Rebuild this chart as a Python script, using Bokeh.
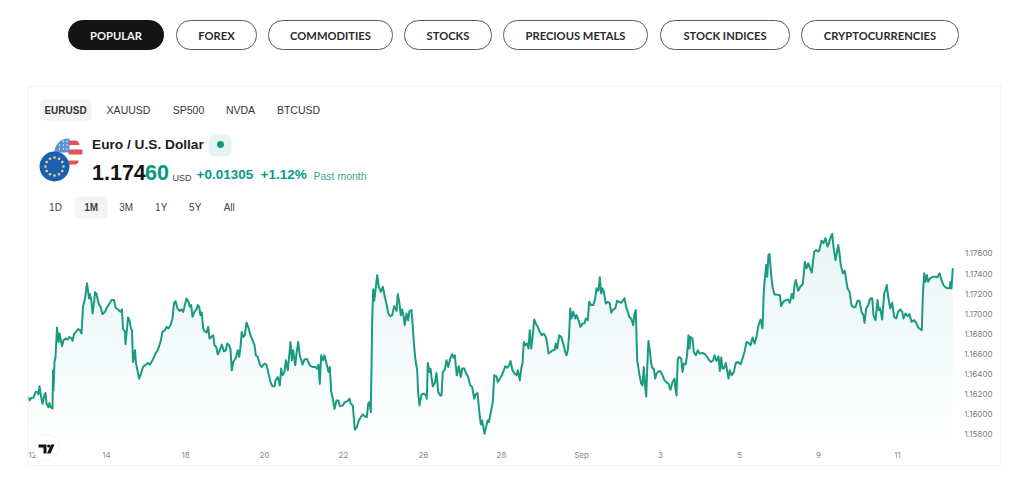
import math
import numpy as np
from bokeh.embed import file_html
from bokeh.models import (BoxAnnotation, FixedTicker, Label, NumeralTickFormatter, PolyAnnotation, Range1d)
from bokeh.plotting import figure
from bokeh.resources import INLINE

# ---- data ----
categories = ["POPULAR", "FOREX", "COMMODITIES", "STOCKS", "PRECIOUS METALS", "STOCK INDICES", "CRYPTOCURRENCIES"]
symbols = ["EURUSD", "XAUUSD", "SP500", "NVDA", "BTCUSD"]
periods = ["1D", "1M", "3M", "1Y", "5Y", "All"]
x_tick_bars = [5, 79, 158, 237, 316, 396, 474, 554, 633, 712, 791, 870]
x_tick_labels = ["12", "14", "18", "20", "22", "26", "28", "Sep", "3", "5", "9", "11"]
y_ticks = [1.158, 1.160, 1.162, 1.164, 1.166, 1.168, 1.170, 1.172, 1.174, 1.176]

bars = [0, 1, 2, 4, 6, 8, 10, 11, 12, 14, 15, 17, 18, 19, 21, 22, 23, 25, 25.5, 26, 27, 28, 29.5, 31, 32, 33, 34.5, 36,
        38, 40, 42, 44, 45, 46.5, 48.5, 50.5, 52.5, 54, 55.5, 57.5, 59.5, 61.5, 62.5, 64, 65, 66.5, 67.5, 69, 71, 73,
        75, 77.5, 79.5, 82, 84, 86.5, 88, 90.5, 93, 94.5, 95.5, 97.5, 98, 99.5, 100.5, 102, 103.5, 104.5, 105.5, 107.5,
        108.5, 110, 111.5, 113.5, 115.5, 118, 120.5, 122.5, 125, 128, 130.5, 133, 135, 137.5, 139, 141, 143, 145, 146.5,
        148, 150, 152, 154,
        155.7, 157.3, 159, 161, 162.3, 163.7, 165, 167, 169, 170.3, 171.7, 173, 174.3, 175.7, 177, 179, 180.7, 182,
        183.7, 185.7, 187, 188.7, 190.3, 192.3, 194.3, 196.3, 198.3, 199.7, 201.7, 203, 204.3, 205.7, 208.3, 210.3,
        211.7, 213, 214.3, 215.7, 217.3, 219, 221, 223, 225, 227, 228.3, 230.3, 232.3, 234.3, 237, 239, 241, 243, 245,
        247, 248, 250.3, 252.3, 253.7, 255, 257, 258.3, 260.3, 263, 264.3, 265.7, 267.7, 269, 270.7, 272.3, 275, 277,
        279.7, 282.3, 285, 287.7, 289.7, 291, 292.3, 293.7, 295.7, 297, 299, 301, 302.3, 303.7, 305, 307, 309, 311, 312.3,
        315.3, 317.3, 320, 322, 323.3, 325.3, 327.3, 329.3, 331.3, 333.3, 335.3, 337.3, 339.3, 340.7, 342, 343.3, 344.7,
        345.7, 346.7, 348, 349.7, 351.3, 353.3, 355.3, 357.3, 359.3, 360.7, 362.7, 364.7, 366.7, 369, 370.3, 372, 373.3,
        374.7, 376, 377.3, 379, 380.7, 382, 384, 385.3, 386.7, 388, 389.7, 390.7, 392, 394, 396, 398.7, 399.3, 400.3, 402,
        403, 404, 405.3, 407.3, 409, 410.7, 412.7, 414, 415.3, 417.3, 419, 420.7, 422.7, 424.7, 426, 427.3, 429.3, 431.3,
        433.3, 434.7, 436.7, 438.7, 440.7, 442.7, 444.7, 446.7, 448, 450, 452, 453.3, 454.7, 457, 458.7, 460, 461.3,
        462.7, 464, 465.3, 466.7,
        467.7, 469, 470.3, 472.3, 474.3, 476.3, 477.7, 479.7, 481.7, 483, 485, 487, 489, 490.3, 492.3, 493.7, 495, 496.3,
        498, 499.7, 501, 502.3, 503.7, 505.3, 506.7, 508.3, 510.3, 512.3, 514.3, 516.3, 518.3, 519.7, 521, 523, 525, 527,
        528.3, 529.7, 531.7, 533.7, 535.7, 537.7, 539, 540.3, 541.7, 542.7, 544, 545.7, 547.7, 549, 551, 553, 555, 557,
        558.3, 560.3, 561.7, 563.7, 565.7, 567.7, 569, 571, 572.3, 573.7, 575, 576.3, 578.3, 580.3, 582.3, 583.7, 585.7,
        587.7, 589.7, 591.7, 593.7, 595.7, 597, 599, 600.3, 601.7, 603.7, 605.7, 607, 608.3, 609.7, 611, 612.3, 613.7,
        615, 616.3, 617.7, 618.7, 620, 621, 622.3,
        623.7, 625, 626.3, 627.7, 629, 631, 633, 635, 637, 639.7, 641, 643, 645, 647, 647.7, 649, 650.3, 651.7, 653.7,
        655, 656.3, 658.3, 659.7, 661, 662, 663, 665, 666.3, 668.3, 670.3, 672.3, 675, 677.7, 679.7, 681.7, 683.7, 685.7,
        687, 689, 691, 692.3, 693.7, 695, 696.3, 698.3, 701, 702.3, 704.3, 706.3, 708.3, 710.3, 713, 715, 717, 719, 721,
        723, 725, 727, 729, 731, 733, 735, 736.3, 737.3, 738.7, 739.7, 741, 742, 743.7, 745, 747, 749, 751, 752.3, 753.7,
        755.7, 758.3, 760.3, 762.3, 764.3, 765.7, 767, 768.3,
        770.7, 772.7, 775.3, 776.7, 777.3, 779, 780.7, 782.7, 784.3, 785.7, 786.7, 788.7, 790.7, 792, 794, 796, 798, 800,
        801.3, 803.3, 804.7, 806, 808, 809.3, 810.7, 812, 813.3, 815.3, 817.3, 818.7, 820, 822, 824, 826, 828, 830, 832,
        834, 836, 837, 838.7, 840.7, 842.7, 844.7, 846, 848, 850, 851.3, 852.7, 854.7, 856.7, 858, 859.3, 860.7, 862.7,
        864.7, 866.7, 868.7, 870.7, 872.7, 874.7, 876, 878, 880, 882, 884, 886.7, 888.7, 890.7, 893.3, 894.3, 895.3, 896.7,
        898, 899.3, 900.7, 902.7, 905.3, 908, 910, 912, 914, 916, 918, 920.7, 922, 923, 924, 925.3]

prices = [1.16165, 1.16162, 1.16135, 1.16162, 1.16162, 1.16218, 1.16218, 1.16195, 1.16275, 1.16152, 1.16102, 1.16195, 1.16208,
          1.16102, 1.16068, 1.16108, 1.16068, 1.16055, 1.16435, 1.16235, 1.16518, 1.16568, 1.16862, 1.16718, 1.16802, 1.16752,
          1.16675, 1.16735, 1.16752, 1.16742, 1.16768, 1.16752, 1.16728, 1.16795, 1.16818, 1.16845, 1.16835, 1.16802, 1.17068,
          1.17152, 1.17302, 1.17152, 1.17195, 1.17118, 1.17002, 1.17102, 1.17215, 1.17195, 1.17102, 1.17068, 1.16995, 1.17018,
          1.17062, 1.17102, 1.17135, 1.17135, 1.17062, 1.17042, 1.17018, 1.17042, 1.16852, 1.16818, 1.16695, 1.16852, 1.16962,
          1.16935, 1.16852, 1.16835, 1.16518, 1.16635, 1.16502, 1.16435, 1.16352, 1.16402, 1.16468, 1.16488, 1.16508, 1.16492,
          1.16535, 1.16602, 1.16642, 1.16718, 1.16818, 1.16835, 1.16868, 1.16852, 1.16885, 1.16952, 1.17102, 1.17125, 1.17052,
          1.17028, 1.17042,
          1.17018, 1.17085, 1.17152, 1.17118, 1.17068, 1.17085, 1.16968, 1.17018, 1.17045, 1.17085, 1.17068, 1.16985, 1.17012,
          1.16852, 1.16825, 1.16812, 1.16868, 1.16752, 1.16768, 1.16785, 1.16685, 1.16668, 1.16592, 1.16635, 1.16692, 1.16625,
          1.16635, 1.16702, 1.16685, 1.16645, 1.16435, 1.16518, 1.16558, 1.16635, 1.16568, 1.16668, 1.16818, 1.16768, 1.16785,
          1.16912, 1.16858, 1.16785, 1.16735, 1.16685, 1.16585, 1.16568, 1.16492, 1.16468, 1.16502, 1.16492, 1.16402, 1.16318,
          1.16275, 1.16275, 1.16335, 1.16368, 1.16285, 1.16452, 1.16385, 1.16418, 1.16535, 1.16435, 1.16718, 1.16535, 1.16635,
          1.16485, 1.16602, 1.16718, 1.16585, 1.16492, 1.16545, 1.16545, 1.16485, 1.16468, 1.16468, 1.16452, 1.16492, 1.16302,
          1.16585, 1.16535, 1.16585, 1.16502, 1.16418, 1.16468, 1.16218, 1.16168, 1.16052, 1.16135, 1.16135, 1.16078,
          1.16085, 1.16118, 1.16128, 1.16152, 1.16102, 1.16085, 1.15842, 1.15868, 1.15935, 1.15968, 1.15995, 1.15975, 1.15968,
          1.16102, 1.16118, 1.16018, 1.16935, 1.17242, 1.17128, 1.17235, 1.17385, 1.17268, 1.17218, 1.17268, 1.17168, 1.17085,
          1.17002, 1.16975, 1.16985, 1.17075, 1.17028, 1.17195, 1.17102, 1.16985, 1.17042, 1.16975, 1.16885, 1.17002, 1.16935,
          1.17028, 1.17035, 1.16868, 1.16668, 1.16535, 1.16435, 1.16202, 1.16085, 1.16195, 1.16202, 1.16185, 1.16152, 1.16508,
          1.16418, 1.16452, 1.16368, 1.16275, 1.16308, 1.16408, 1.16218, 1.16185, 1.16185, 1.16418, 1.16442, 1.16535, 1.16468,
          1.16552, 1.16595, 1.16562, 1.16585, 1.16385, 1.16475, 1.16368, 1.16452, 1.16452, 1.16402, 1.16368, 1.16285, 1.16268,
          1.16152, 1.16195, 1.16208, 1.16002, 1.15895, 1.15935, 1.15802, 1.15875, 1.15935, 1.15918, 1.15985, 1.16052, 1.16118,
          1.16385,
          1.16375, 1.16375, 1.16318, 1.16352, 1.16385, 1.16435, 1.16475, 1.16462, 1.16485, 1.16528, 1.16435, 1.16402, 1.16385,
          1.16435, 1.16335, 1.16452, 1.16502, 1.16718, 1.16685, 1.16702, 1.16652, 1.16835, 1.16652, 1.16785, 1.16942, 1.16902,
          1.16868, 1.16818, 1.16785, 1.16802, 1.16768, 1.16702, 1.16602, 1.16618, 1.16635, 1.16635, 1.16702, 1.16652, 1.16785,
          1.16768, 1.16702, 1.16618, 1.16585, 1.16635, 1.16802, 1.17052, 1.16952, 1.17018, 1.16952, 1.16985, 1.16935, 1.16868,
          1.16902, 1.16902, 1.16952, 1.16935, 1.17118, 1.17085, 1.17085, 1.17152, 1.17252, 1.17228, 1.17362, 1.17202, 1.17252,
          1.17218, 1.17102, 1.17118, 1.17102, 1.17008, 1.17042, 1.17052, 1.17128, 1.17118, 1.17108, 1.17135, 1.17152, 1.17052,
          1.17018, 1.16968, 1.16952, 1.16885, 1.17002, 1.17035, 1.16535, 1.16452, 1.16368, 1.16302, 1.16285, 1.16468, 1.16268,
          1.16175, 1.16535, 1.16728, 1.16635,
          1.16502, 1.16452, 1.16452, 1.16352, 1.16402, 1.16425, 1.16425, 1.16385, 1.16335, 1.16308, 1.16302, 1.16242, 1.16318,
          1.16352, 1.16268, 1.16185, 1.16552, 1.16568, 1.16552, 1.16418, 1.16502, 1.16495, 1.16602, 1.16785, 1.16652, 1.16768,
          1.16752, 1.16618, 1.16585, 1.16635, 1.16602, 1.16608, 1.16595, 1.16568, 1.16535, 1.16518, 1.16535, 1.16585, 1.16528,
          1.16575, 1.16428, 1.16562, 1.16452, 1.16452, 1.16508, 1.16352, 1.16435, 1.16385, 1.16418, 1.16508, 1.16518, 1.16495,
          1.16552, 1.16618, 1.16718, 1.16708, 1.16685, 1.16762, 1.16702, 1.16768, 1.16885, 1.16942, 1.16852, 1.17218, 1.17352,
          1.17485, 1.17368, 1.17585, 1.17595, 1.17385, 1.17268, 1.17192, 1.17192, 1.17185, 1.17185, 1.17075, 1.17118, 1.17135,
          1.17142, 1.17108, 1.17195, 1.17152, 1.17285, 1.17335,
          1.17228, 1.17268, 1.17295, 1.17435, 1.17518, 1.17452, 1.17502, 1.17452, 1.17408, 1.17535, 1.17618, 1.17635, 1.17618,
          1.17635, 1.17728, 1.17702, 1.17752, 1.17668, 1.17695, 1.17768, 1.17795, 1.17668, 1.17535, 1.17602, 1.17685, 1.17602,
          1.17485, 1.17402, 1.17428, 1.17335, 1.17252, 1.17218, 1.17085, 1.17062, 1.17068, 1.17128, 1.17128, 1.17018, 1.16985,
          1.16908, 1.17052, 1.17085, 1.17152, 1.17152, 1.16985, 1.16935, 1.17135, 1.17035, 1.17052, 1.16942, 1.17202, 1.17235,
          1.17285, 1.17168, 1.17052, 1.17108, 1.16968, 1.16952, 1.17018, 1.17042, 1.17018, 1.16952, 1.17002, 1.16975, 1.16995,
          1.16918, 1.16935, 1.16908, 1.16862, 1.16842, 1.16835, 1.17168, 1.17402, 1.17318, 1.17385, 1.17318, 1.17352, 1.17368,
          1.17368, 1.17362, 1.17402, 1.17335, 1.17285, 1.17262, 1.17252, 1.17252, 1.17318, 1.17252, 1.17452]

if len(bars) != len(prices):
    raise ValueError(f"length mismatch {len(bars)} {len(prices)}")
n = len(bars)

TEAL = "#089981"
LINE = "#1a9a82"

# the frame covers the whole card and header, so header annotations are not clipped
p = figure(width=1016, height=480, output_backend="svg", toolbar_location=None,
           x_range=Range1d(0, 989), y_range=Range1d(1.15486, 1.20122),
           x_axis_location="below", y_axis_location="left",
           min_border_left=27, min_border_right=0, min_border_top=0, min_border_bottom=15)
p.background_fill_color = "white"
p.border_fill_color = "white"
p.outline_line_color = None
p.grid.visible = False

ax = p.xaxis[0]
ax.ticker = FixedTicker(ticks=x_tick_bars)
ax.major_label_overrides = dict(zip(x_tick_bars, x_tick_labels))
ax.axis_line_color = None
ax.major_tick_line_color = None
ax.minor_tick_line_color = None
ax.major_tick_out = 0
ax.major_label_text_font = "Inter"
ax.major_label_text_font_size = "8px"
ax.major_label_text_color = "#8a8a8a"
ax.major_label_standoff = 1
ax.fixed_location = 1.1565

ay = p.yaxis[0]
ay.ticker = FixedTicker(ticks=y_ticks)
ay.formatter = NumeralTickFormatter(format="0.00000")
ay.axis_line_color = None
ay.major_tick_line_color = None
ay.minor_tick_line_color = None
ay.major_tick_out = 0
ay.major_label_text_font = "Inter"
ay.major_label_text_font_size = "8px"
ay.major_label_text_color = "#7a7a7a"
ay.major_label_standoff = 0
ay.fixed_location = 965

# gradient under the line, stacked as thin bands
price_arr = np.array(prices)
levels = np.linspace(1.15665, 1.17849, 23)
for i in range(len(levels) - 1):
    lo, hi = levels[i], levels[i + 1]
    frac = (i + 0.5) / (len(levels) - 1)
    p.varea(x=bars, y1=np.full(n, lo), y2=np.clip(price_arr, lo, hi), fill_color=TEAL,
            fill_alpha=0.002 + 0.09 * frac)

p.line(x=bars, y=prices, line_color=LINE, line_width=2, line_join="round")


def box(l, t, r, b, fill=None, line=None, radius=0, lw=1, alpha=1.0):
    rad = radius if isinstance(radius, tuple) else int(math.ceil(radius))
    p.add_layout(BoxAnnotation(left=l, right=r, top=t, bottom=b,
                               left_units="canvas", right_units="canvas", top_units="canvas", bottom_units="canvas",
                               fill_color=fill, fill_alpha=alpha if fill else 0,
                               line_color=line, line_alpha=1 if line else 0, line_width=lw,
                               border_radius=rad, level="annotation"))


def text(x, y, s, size, color="#222", font="Liberation Sans", style="normal", align="center"):
    p.add_layout(Label(x=x, y=y, x_units="canvas", y_units="canvas", text=s,
                       text_font=font, text_font_size=f"{size}px", text_color=color, text_font_style=style,
                       text_align=align, text_baseline="middle", level="annotation"))


# card
box(27.5, 86, 1000, 465, line="#eeeeee")

# category buttons
btn_edges = [(68, 163), (176, 256), (268, 392), (404, 491), (503, 647), (660, 789), (801, 958)]
for i, (name, (l, r)) in enumerate(zip(categories, btn_edges)):
    if i == 0:
        box(l, 20, r, 49, fill="#141414", line="#141414", radius=14)
        text((l + r) / 2, 34.5, name, 11.2, color="#f2f2f2", font="Lato", style="bold")
    else:
        box(l, 20, r, 49, line="#5a5a5a", radius=14)
        text((l + r) / 2, 34.5, name, 11.2, color="#2b2b2b", font="Lato", style="bold")

# symbol tabs
box(40, 99, 91, 120, fill="#f4f4f4", radius=4)
for s, cx, st, sz in zip(symbols, [65, 128, 188, 240, 298], ["bold", "normal", "normal", "normal", "normal"],
                         [10, 10.5, 10.5, 10.5, 10.5]):
    text(cx, 109.5, s, sz, color="#333", style=st, font="Liberation Sans")

# flags
box(54, 138, 82, 166, fill="#ffffff", radius=14)
box(68, 140, 79, 144.5, fill="#e4525a", radius=(0, 5, 0, 0))
box(68, 149, 82, 154, fill="#e4525a", radius=1)
box(68, 160, 78, 164, fill="#e4525a", radius=(0, 0, 5, 0))
box(54, 138, 69, 152, fill="#5b92d8", radius=(14, 0, 0, 0))
for cx, cy in [(63, 141), (66.5, 141), (59, 144.5), (63, 144.5), (66.5, 144.5), (59, 148.5), (63, 148.5), (66.5, 148.5)]:
    box(cx - 0.7, cy - 0.7, cx + 0.7, cy + 0.7, fill="#ffffff", radius=1)
box(39, 151, 69, 181, fill="#1a5fb0", radius=15)
for k in range(12):
    a = k * math.pi / 6
    cx, cy = 54 + 9 * math.cos(a), 166 + 9 * math.sin(a)
    box(cx - 1.3, cy - 1.3, cx + 1.3, cy + 1.3, fill="#d8d08a", radius=1)

# title
text(91.5, 144, "Euro / U.S. Dollar", 13.7, color="#1a1a1a", style="bold", align="left")
box(208, 134, 231, 156, fill="#e7f5f2", radius=6)
box(216.5, 140.5, 223.5, 147.5, fill=TEAL, radius=4)

# price row
text(91.5, 171.5, "1.174", 21.5, color="#131313", style="bold", align="left")
text(144.5, 171.5, "60", 21.5, color=TEAL, style="bold", align="left")
text(172, 177.5, "USD", 9, color="#444", align="left")
text(196, 174, "+0.01305", 13.5, color=TEAL, style="bold", align="left")
text(260, 174, "+1.12%", 13.5, color=TEAL, style="bold", align="left")
text(313, 175, "Past month", 10.5, color="#3aa892", align="left")

# period tabs
box(74, 196, 107, 218, fill="#f4f4f4", radius=4)
for s, cx, st in zip(periods, [55, 90.7, 125.7, 160.7, 194.7, 228.7], ["normal", "bold", "normal", "normal", "normal", "normal"]):
    text(cx, 207, s, 10, color="#444", style=st)

# TradingView mark
box(33, 434, 59, 460, fill="#ffffff", line="#f6f6f6", radius=13)
for xs, ys in [([38, 46, 46, 43, 43, 38], [444, 444, 453, 453, 447, 447]),
               ([50.5, 54, 50, 46.5], [444, 444, 453, 453])]:
    p.add_layout(PolyAnnotation(xs=xs, ys=ys, xs_units="canvas", ys_units="canvas",
                                fill_color="#111111", fill_alpha=1, line_color=None, level="annotation"))
box(46.6, 444, 49.6, 447, fill="#111111", radius=2)

open("out.html", "w").write(file_html(p, INLINE))
